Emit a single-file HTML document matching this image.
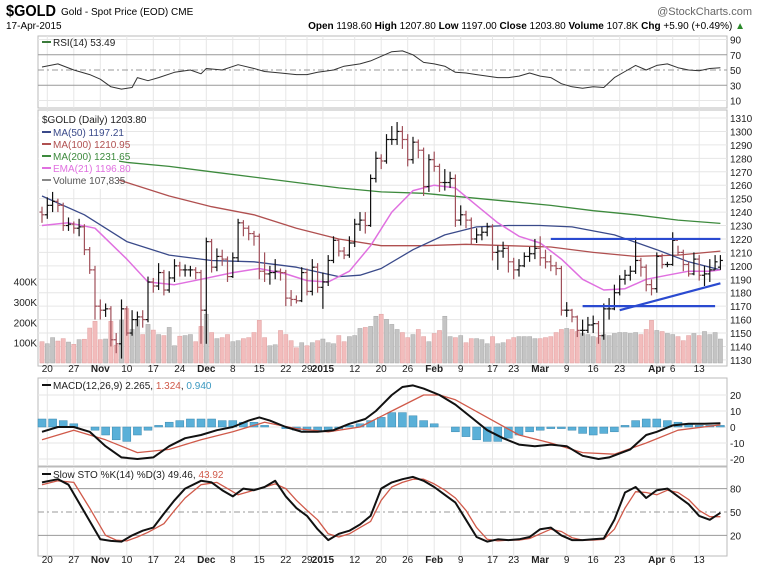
<!DOCTYPE html>
<html><head><meta charset="utf-8"><style>
body{margin:0;background:#fff;}
svg{display:block;font-family:"Liberation Sans",sans-serif;}
</style></head><body>
<svg id="c" width="765" height="570" viewBox="0 0 765 570">
<g>
<text x="6" y="16" font-size="16" font-weight="bold" textLength="50" lengthAdjust="spacingAndGlyphs">$GOLD</text>
<text x="61" y="15" font-size="10">Gold - Spot Price (EOD) CME</text>
<text x="6" y="29" font-size="10">17-Apr-2015</text>
<text x="752" y="15" font-size="11" fill="#666" text-anchor="end">@StockCharts.com</text>
<text x="745" y="29" font-size="10" text-anchor="end"><tspan font-weight="bold">Open</tspan> 1198.60 <tspan font-weight="bold">High</tspan> 1207.80 <tspan font-weight="bold">Low</tspan> 1197.00 <tspan font-weight="bold">Close</tspan> 1203.80 <tspan font-weight="bold">Volume</tspan> 107.8K <tspan font-weight="bold">Chg</tspan> +5.90 (+0.49%) <tspan fill="#2a8a2a">▲</tspan></text>
</g>
<g id="grid"></g>
<g id="marks"></g>
<g id="labels"></g>
</svg>
<script>
const closes=[1238,1245,1248,1245,1230,1231,1228,1229,1212,1197,1170,1167,1168,1145,1142,1168,1150,1160,1162,1160,1188,1185,1195,1182,1191,1200,1197,1197,1197,1195,1167,1218,1199,1207,1205,1192,1206,1232,1228,1224,1222,1196,1194,1195,1196,1195,1176,1175,1174,1195,1181,1199,1184,1188,1204,1219,1211,1208,1217,1231,1234,1230,1265,1280,1278,1294,1294,1300,1294,1279,1292,1286,1259,1279,1274,1262,1262,1265,1234,1238,1234,1220,1223,1225,1229,1210,1211,1213,1203,1197,1200,1207,1209,1213,1206,1203,1200,1198,1167,1167,1162,1152,1152,1156,1157,1148,1168,1168,1180,1190,1193,1196,1204,1199,1186,1183,1207,1201,1201,1219,1210,1201,1194,1205,1193,1194,1197,1203,1204];
const opens=[1240,1238,1245,1248,1245,1230,1231,1228,1229,1212,1197,1170,1167,1168,1145,1142,1168,1150,1160,1162,1160,1188,1185,1195,1182,1191,1200,1197,1197,1197,1195,1167,1218,1199,1207,1205,1192,1206,1232,1228,1224,1222,1196,1194,1195,1196,1195,1176,1175,1174,1195,1181,1199,1184,1188,1204,1219,1211,1208,1217,1231,1234,1230,1265,1280,1278,1294,1294,1300,1294,1279,1292,1286,1259,1279,1274,1262,1262,1265,1234,1238,1234,1220,1223,1225,1229,1210,1211,1213,1203,1197,1200,1207,1209,1213,1206,1203,1200,1198,1167,1167,1162,1152,1152,1156,1157,1148,1168,1168,1180,1190,1193,1196,1204,1199,1186,1183,1207,1201,1201,1219,1210,1201,1194,1205,1193,1194,1197,1199];
const highs=[1244,1251,1255,1250,1247,1236,1233,1235,1231,1214,1200,1175,1172,1170,1150,1175,1170,1167,1166,1167,1192,1191,1202,1197,1196,1205,1203,1201,1200,1199,1197,1221,1220,1213,1212,1207,1210,1235,1234,1230,1226,1224,1210,1200,1205,1198,1197,1182,1178,1199,1198,1205,1202,1195,1208,1222,1220,1214,1222,1235,1240,1240,1268,1285,1283,1298,1304,1307,1304,1298,1296,1294,1288,1283,1285,1276,1272,1270,1268,1245,1241,1236,1228,1229,1232,1231,1215,1218,1215,1206,1205,1210,1214,1220,1222,1212,1208,1203,1200,1173,1168,1163,1160,1162,1163,1159,1172,1176,1186,1193,1197,1200,1221,1206,1201,1190,1210,1209,1203,1225,1215,1212,1203,1210,1208,1200,1205,1208,1208];
const lows=[1232,1235,1240,1240,1226,1226,1224,1222,1208,1194,1160,1160,1162,1140,1135,1131,1148,1148,1155,1154,1158,1180,1182,1178,1180,1188,1192,1192,1192,1190,1142,1142,1195,1196,1200,1188,1191,1203,1222,1219,1215,1190,1188,1186,1190,1189,1170,1170,1172,1173,1178,1178,1180,1168,1185,1202,1207,1205,1206,1214,1226,1224,1229,1262,1272,1276,1290,1290,1287,1274,1276,1280,1252,1255,1270,1255,1256,1258,1229,1230,1228,1216,1217,1219,1222,1204,1197,1206,1195,1190,1192,1199,1203,1205,1200,1198,1196,1193,1163,1162,1158,1147,1148,1150,1150,1142,1145,1160,1167,1178,1186,1189,1194,1192,1181,1178,1180,1198,1199,1200,1208,1196,1192,1193,1189,1185,1188,1197,1197];
const volumes=[105,95,125,108,120,103,92,115,117,172,205,115,118,205,88,212,268,165,215,140,190,162,140,135,175,85,132,135,140,105,180,240,150,120,125,140,105,110,120,125,150,210,125,85,90,160,140,110,75,100,85,100,110,118,100,95,135,105,130,135,170,175,180,230,240,215,190,165,150,125,140,165,130,105,145,160,230,130,125,135,100,120,120,115,95,130,95,100,115,125,130,130,130,120,120,125,130,150,165,170,165,155,145,140,130,125,140,135,145,150,150,145,150,140,165,210,160,155,145,140,130,110,135,145,135,155,140,150,118];
const ma50Idx=[0,8,16,24,32,40,48,56,60,64,70,76,82,88,94,100,108,116,122,128];
const ma50Val=[1252,1238,1218,1208,1204,1203,1199,1192,1193,1198,1212,1223,1229,1230,1230,1229,1223,1212,1203,1197];
const ma100Idx=[0,8,16,24,32,40,48,56,64,72,80,88,96,104,112,120,128];
const ma100Val=[1285,1272,1262,1252,1244,1238,1228,1220,1215,1215,1216,1215,1214,1210,1207,1208,1211];
const ma200Idx=[0,8,16,24,32,40,48,56,64,72,80,88,96,104,112,120,128];
const ma200Val=[1290,1282,1277,1274,1270,1266,1262,1258,1255,1254,1251,1248,1245,1241,1238,1234,1231.6];
const emaIdx=[0,5,10,16,20,25,30,36,41,46,50,54,58,62,66,70,74,78,82,86,90,94,98,102,106,110,114,118,122,126,128];
const emaVal=[1230,1232,1228,1205,1188,1186,1190,1195,1198,1194,1189,1188,1196,1215,1240,1256,1260,1258,1245,1232,1222,1217,1205,1190,1182,1183,1190,1193,1196,1196,1197];
const rsiIdx=[0,3,6,9,11,13,15,17,18,20,22,25,28,30,31,34,37,40,42,45,48,50,52,55,57,60,62,64,66,68,70,72,74,76,78,80,82,84,86,88,90,92,94,96,98,100,102,104,106,108,110,112,114,116,118,120,122,124,126,128];
const rsiVal=[54,58,50,44,38,28,25,27,40,36,40,47,50,45,52,50,57,52,48,46,44,44,47,50,55,58,62,68,74,75,70,60,58,55,47,46,44,42,40,40,42,46,42,40,32,28,26,28,27,40,48,56,50,56,58,53,50,49,52,53];
const macdIdx=[0,3,6,9,12,15,18,21,24,27,30,33,36,39,41,43,46,49,52,55,58,61,63,66,68,70,72,75,78,81,84,87,90,93,96,99,102,105,107,111,114,116,119,122,125,128];
const macdVal=[-3,0,0,-3,-12,-19,-20,-19,-12,-7,-5,-2,0,4,6,4,0,-3,-3,-2,2,5,10,20,25,26,24,20,14,6,-2,-7,-11,-12,-11,-12,-18,-20,-19,-14,-5,-3,1,2,2,2.3];
const sigIdx=[0,6,12,18,24,30,36,42,48,54,60,66,72,75,78,84,90,96,102,108,114,120,128];
const sigVal=[-8,-2,-8,-16,-14,-8,-3,3,-1,-3,0,10,20,20,17,6,-5,-10,-16,-17,-10,-2,1.3];
const histVal=[5,5,4,2,0,-2,-5,-8,-9,-5,-2,1,3,4,5,5,5,4,4,3,3,1,0,-1,-2,-2,-3,-2,-1,1,2,4,6,9,9,7,4,2,0,-3,-6,-8,-9,-9,-7,-5,-3,-2,-1,-1,-2,-4,-5,-4,-3,1,4,5,5,4,3,2,1,1,1];
const kIdx=[0,3,5,8,11,13,15,17,19,21,23,25,27,30,32,34,36,38,40,42,44,46,48,50,52,54,56,58,60,62,64,66,68,70,72,74,76,78,80,82,84,86,88,90,92,94,96,98,100,102,104,106,108,110,112,114,116,118,120,122,124,126,128];
const kVal=[88,92,85,50,15,13,12,20,26,30,48,65,80,90,88,78,70,80,78,82,90,70,55,45,28,14,22,26,34,45,80,88,92,95,90,82,72,62,40,18,12,15,14,15,18,28,30,20,14,14,15,16,40,75,82,68,78,80,70,60,45,40,49];
const dIdx=[0,3,6,9,12,14,16,18,20,23,25,27,30,33,35,37,39,41,44,46,48,50,52,54,56,58,60,62,64,66,68,70,72,74,76,78,80,82,84,86,88,90,92,94,96,98,100,102,104,106,108,110,112,114,116,118,120,122,124,126,128];
const dVal=[85,90,88,55,20,14,13,18,24,35,52,68,85,88,80,72,76,80,86,80,65,52,40,22,18,22,30,38,65,82,88,92,92,86,78,68,52,30,15,13,14,14,16,22,28,25,17,14,14,15,28,55,76,75,72,78,75,66,52,44,44];
const dateIdx=[1,6,11,16,21,26,31,36,41,46,50,53,59,64,69,74,79,85,89,94,99,104,109,116,119,124];
const dateTxt=["20","27","Nov","10","17","24","Dec","8","15","22","29","2015","12","20","26","Feb","9","17","23","Mar","9","16","23","Apr","6","13"];
const dateBold=[0,0,1,0,0,0,1,0,0,0,0,1,0,0,0,1,0,0,0,1,0,0,0,1,0,0];
const priceTicks=[1310,1300,1290,1280,1270,1260,1250,1240,1230,1220,1210,1200,1190,1180,1170,1160,1150,1140,1130];
const volTicks=[100,200,300,400];
const rsiTicks=[90,70,50,30,10];
const macdTicks=[20,10,0,-10,-20];
const stoTicks=[80,50,20];

const NS="http://www.w3.org/2000/svg";
const L=38,R=727;
const x=i=>42+i*5.3;
const yP=p=>118+(1310-p)*1.344;
const yV=v=>363-v*0.2033;
const yR=r=>70-(r-50)*0.7625;
const yM=m=>427-m*1.6;
const yS=s=>512-(s-50)*0.78;
function el(t,a,p){const e=document.createElementNS(NS,t);for(const k in a)e.setAttribute(k,a[k]);(p||document.getElementById('marks')).appendChild(e);return e;}
const G=document.getElementById('grid'),LB=document.getElementById('labels');
const panels=[[36,108],[110,366],[378,466],[467,556]];
panels.forEach((p,k)=>{const r=el('rect',{x:L,y:p[0],width:R-L,height:p[1]-p[0],fill:'#fff',stroke:'#bbb','stroke-width':1},G);

});
dateIdx.forEach(i=>{panels.forEach(p=>{const l=el('line',{x1:x(i),x2:x(i),y1:p[0],y2:p[1],stroke:'#e6e6e6'},G);

});});
function hgrid(ticks,f,dash,col){ticks.forEach(t=>{const l=el('line',{x1:L,x2:R,y1:f(t),y2:f(t),stroke:col||'#e6e6e6'},G);if(dash)l.setAttribute('stroke-dasharray',dash);

});}
hgrid(priceTicks,yP);
hgrid([90,10],yR);hgrid([70,30],yR,null,'#999');hgrid([50],yR,'6,3,2,3','#999');
hgrid(macdTicks,yM);
hgrid([80,20],yS,null,'#999');hgrid([50],yS,'6,3,2,3','#999');
function ylab(ticks,f,xx,anchor,name,fmt){ticks.forEach(t=>{const e=el('text',{x:xx,y:f(t)+4,'font-size':10,'text-anchor':anchor,fill:'#222'},LB);e.textContent=fmt?fmt(t):t;

});}
ylab(priceTicks,yP,730,'start','price-tick');
ylab(volTicks,yV,37,'end','volume-tick',t=>t+'K');
ylab(rsiTicks,yR,730,'start','rsi-tick');
ylab(macdTicks,yM,730,'start','macd-tick');
ylab(stoTicks,yS,730,'start','sto-tick');
[372,563].forEach(yy=>{dateIdx.forEach((i,k)=>{const e=el('text',{x:x(i),y:yy,'font-size':10,'text-anchor':'middle','font-weight':dateBold[k]?'bold':'normal',fill:'#222'},LB);e.textContent=dateTxt[k];

});});
volumes.forEach((v,i)=>{const up=closes[i]>=opens[i];const r=el('rect',{x:x(i)-2.1,y:yV(v),width:4.2,height:363-yV(v),fill:up?'#c4c4c4':'#f2bcbc',stroke:up?'#a8a8a8':'#e0a0a0','stroke-width':0.5});

});
function line(idx,val,f,col,w,name){const d=idx.map((i,k)=>(k?'L':'M')+x(i).toFixed(1)+','+f(val[k]).toFixed(1)).join('');const p=el('path',{d:d,fill:'none',stroke:col,'stroke-width':w,'stroke-linejoin':'round'});

return p;}
line(ma200Idx,ma200Val,yP,'#3d8a3d',1.3,'ma200-line');
line(ma100Idx,ma100Val,yP,'#b05050',1.3,'ma100-line');
line(ma50Idx,ma50Val,yP,'#3a4a8a',1.3,'ma50-line');
line(emaIdx,emaVal,yP,'#e070e0',1.5,'ema21-line');
// legend backdrop
const bk=el('rect',{x:39,y:112,width:80,height:77,fill:'#fff'});


closes.forEach((c,i)=>{const up=c>=opens[i];const col=up?'#111':'#a0505a';const g=el('g',{stroke:col,'stroke-width':1.2});


el('line',{x1:x(i),x2:x(i),y1:yP(highs[i]),y2:yP(lows[i])},g);el('line',{x1:x(i)-2.5,x2:x(i),y1:yP(opens[i]),y2:yP(opens[i])},g);el('line',{x1:x(i),x2:x(i)+2.5,y1:yP(c),y2:yP(c)},g);});
[[96,1220,128,1220],[102,1170,127,1170],[109,1167,128,1187]].forEach(t=>{const l=el('line',{x1:x(t[0]),y1:yP(t[1]),x2:x(t[2]),y2:yP(t[3]),stroke:'#2a4ad0','stroke-width':2.2});

});
line(rsiIdx,rsiVal,yR,'#333',1,'rsi-line');
histVal.forEach((h,k)=>{const i=k*2;const y0=yM(0),y1=yM(h);const r=el('rect',{x:x(i)-4,y:Math.min(y0,y1),width:8,height:Math.abs(y1-y0),fill:'#5ab0d8',stroke:'#3a88b0','stroke-width':0.5});

});
line(sigIdx,sigVal,yM,'#d05a4a',1.3,'macd-signal-line');
line(macdIdx,macdVal,yM,'#111',2,'macd-line');
line(dIdx,dVal,yS,'#d05a4a',1.3,'sto-d-line');
line(kIdx,kVal,yS,'#111',2,'sto-k-line');
function leg(xx,yy,sw,parts,name){const g=el('g',{},LB);


let tx=xx;if(sw){el('line',{x1:xx,x2:xx+9,y1:yy-4,y2:yy-4,stroke:sw,'stroke-width':2},g);tx=xx+11;}
const t=el('text',{x:tx,y:yy,'font-size':10,fill:'#222'},g);parts.forEach(p=>{const s=el('tspan',{fill:p[1]},t);s.textContent=p[0];});}
leg(42,46,'#3a7a3a',[['RSI(14) 53.49','#222']],'rsi-legend');
leg(42,123,null,[['$GOLD (Daily) 1203.80','#222']],'price-legend');
leg(42,136,'#3a4a8a',[['MA(50) 1197.21','#3a4a8a']],'ma50-legend');
leg(42,148,'#b05050',[['MA(100) 1210.95','#b05050']],'ma100-legend');
leg(42,160,'#3d8a3d',[['MA(200) 1231.65','#3d8a3d']],'ma200-legend');
leg(42,172,'#e070e0',[['EMA(21) 1196.80','#e070e0']],'ema21-legend');
leg(42,184,'#888',[['Volume 107,835','#555']],'volume-legend');
leg(42,389,'#111',[['MACD(12,26,9) 2.265, ','#222'],['1.324','#d05a4a'],[', ','#222'],['0.940','#3a98c0']],'macd-legend');
leg(42,478,'#111',[['Slow STO %K(14) %D(3) 49.46, ','#222'],['43.92','#d05a4a']],'sto-legend');
</script>
</body></html>
